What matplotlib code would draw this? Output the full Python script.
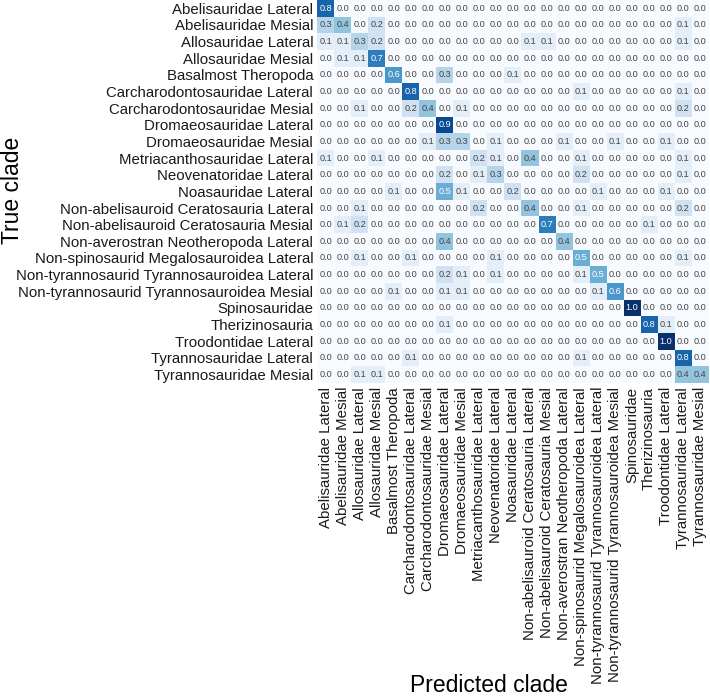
import numpy as np
import matplotlib
matplotlib.use('Agg')
import matplotlib.pyplot as plt

plt.rcParams['font.family'] = ['Liberation Sans', 'DejaVu Sans']

clades = [
    'Abelisauridae Lateral', 'Abelisauridae Mesial', 'Allosauridae Lateral',
    'Allosauridae Mesial', 'Basalmost Theropoda', 'Carcharodontosauridae Lateral',
    'Carcharodontosauridae Mesial', 'Dromaeosauridae Lateral', 'Dromaeosauridae Mesial',
    'Metriacanthosauridae Lateral', 'Neovenatoridae Lateral', 'Noasauridae Lateral',
    'Non-abelisauroid Ceratosauria Lateral', 'Non-abelisauroid Ceratosauria Mesial',
    'Non-averostran Neotheropoda Lateral', 'Non-spinosaurid Megalosauroidea Lateral',
    'Non-tyrannosaurid Tyrannosauroidea Lateral', 'Non-tyrannosaurid Tyrannosauroidea Mesial',
    'Spinosauridae', 'Therizinosauria', 'Troodontidae Lateral',
    'Tyrannosauridae Lateral', 'Tyrannosauridae Mesial',
]

# non-zero cells per true clade: {predicted column: value}
row_entries = [
    {0: 0.8},
    {0: 0.3, 1: 0.4, 3: 0.2, 21: 0.1},
    {0: 0.1, 1: 0.1, 2: 0.3, 3: 0.2, 12: 0.1, 13: 0.1, 21: 0.1},
    {1: 0.1, 2: 0.1, 3: 0.7},
    {4: 0.6, 7: 0.3, 11: 0.1},
    {5: 0.8, 15: 0.1, 21: 0.1},
    {2: 0.1, 5: 0.2, 6: 0.4, 8: 0.1, 21: 0.2},
    {7: 0.9},
    {6: 0.1, 7: 0.3, 8: 0.3, 10: 0.1, 14: 0.1, 17: 0.1, 20: 0.1},
    {0: 0.1, 3: 0.1, 9: 0.2, 10: 0.1, 12: 0.4, 15: 0.1, 21: 0.1},
    {7: 0.2, 9: 0.1, 10: 0.3, 15: 0.2, 21: 0.1},
    {4: 0.1, 7: 0.5, 8: 0.1, 11: 0.2, 16: 0.1, 20: 0.1},
    {2: 0.1, 9: 0.2, 12: 0.4, 15: 0.1, 21: 0.2},
    {1: 0.1, 2: 0.2, 13: 0.7, 19: 0.1},
    {7: 0.4, 14: 0.4},
    {2: 0.1, 5: 0.1, 10: 0.1, 15: 0.5, 21: 0.1},
    {7: 0.2, 8: 0.1, 10: 0.1, 15: 0.1, 16: 0.5},
    {4: 0.1, 7: 0.1, 8: 0.1, 16: 0.1, 17: 0.6},
    {18: 1.0},
    {7: 0.1, 19: 0.8, 20: 0.1},
    {20: 1.0},
    {5: 0.1, 15: 0.1, 21: 0.8},
    {2: 0.1, 3: 0.1, 21: 0.4, 22: 0.4},
]

n = len(clades)
cm = np.zeros((n, n))
for i, entries in enumerate(row_entries):
    for j, v in entries.items():
        cm[i, j] = v

fig = plt.figure(figsize=(7.1, 6.96), dpi=100)
ax = fig.add_axes([0.447, 0.45, 0.551, 0.55])
ax.imshow(cm, cmap='Blues', vmin=0, vmax=1, aspect='auto', interpolation='nearest')

for i in range(n):
    for j in range(n):
        v = cm[i, j]
        ax.text(j, i, f'{v:.1f}', ha='center', va='center', fontsize=6.6,
                color='white' if v >= 0.45 else '#444444')

ax.set_xticks(range(n))
ax.set_yticks(range(n))
ax.set_xticklabels(clades, rotation=90, fontsize=10.8, color='#1a1a1a')
ax.set_yticklabels(clades, fontsize=10.8, color='#1a1a1a')
ax.tick_params(length=0, pad=3)
for s in ax.spines.values():
    s.set_visible(False)

fig.text(0.689, 1 - 686 / 696, 'Predicted clade', ha='center', va='center', fontsize=16.5)
fig.text(0.017, 1 - 190 / 696, 'True clade', ha='center', va='center', rotation=90, fontsize=16.5)

fig.savefig('out.png', dpi=100)
